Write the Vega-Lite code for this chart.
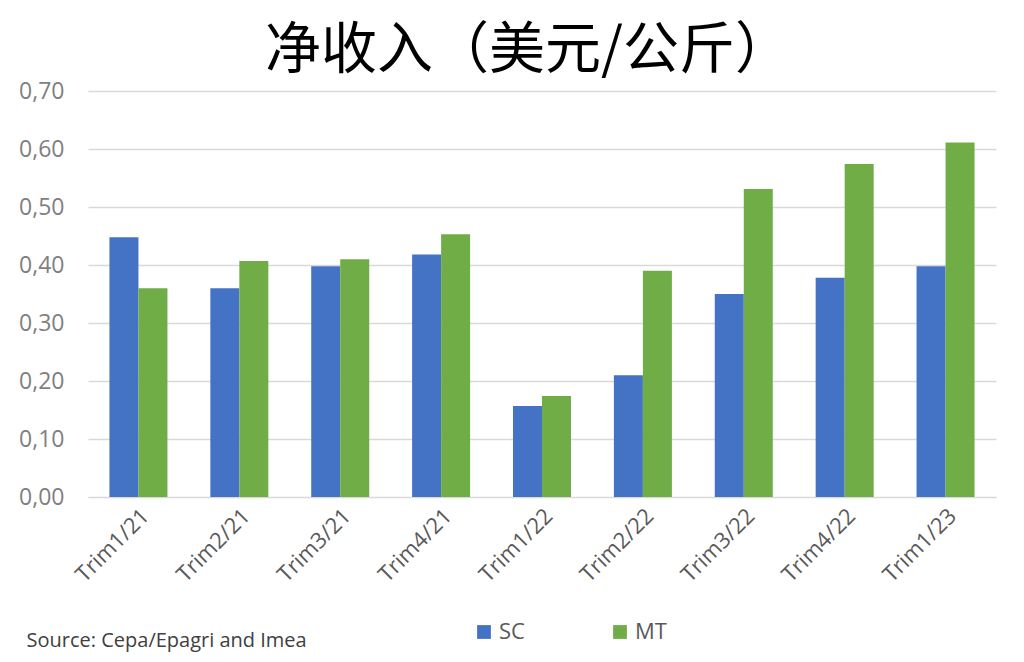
{
  "$schema": "https://vega.github.io/schema/vega-lite/v6.json",
  "width": 908,
  "height": 406,
  "autosize": "none",
  "padding": {"left": 88, "top": 91, "right": 28, "bottom": 165},
  "background": "white",
  "title": {
    "text": "净收入（美元/公斤）",
    "font": "Noto Sans CJK SC",
    "fontSize": 56,
    "fontWeight": "normal",
    "color": "#000000",
    "anchor": "middle",
    "dx": -14,
    "offset": 0
  },
  "data": {
    "values": [
      {"trim": "Trim1/21", "region": "SC", "value": 0.448},
      {"trim": "Trim1/21", "region": "MT", "value": 0.36},
      {"trim": "Trim2/21", "region": "SC", "value": 0.36},
      {"trim": "Trim2/21", "region": "MT", "value": 0.407},
      {"trim": "Trim3/21", "region": "SC", "value": 0.398},
      {"trim": "Trim3/21", "region": "MT", "value": 0.41},
      {"trim": "Trim4/21", "region": "SC", "value": 0.418},
      {"trim": "Trim4/21", "region": "MT", "value": 0.453},
      {"trim": "Trim1/22", "region": "SC", "value": 0.157},
      {"trim": "Trim1/22", "region": "MT", "value": 0.174},
      {"trim": "Trim2/22", "region": "SC", "value": 0.21},
      {"trim": "Trim2/22", "region": "MT", "value": 0.39},
      {"trim": "Trim3/22", "region": "SC", "value": 0.35},
      {"trim": "Trim3/22", "region": "MT", "value": 0.531},
      {"trim": "Trim4/22", "region": "SC", "value": 0.378},
      {"trim": "Trim4/22", "region": "MT", "value": 0.574},
      {"trim": "Trim1/23", "region": "SC", "value": 0.398},
      {"trim": "Trim1/23", "region": "MT", "value": 0.611}
    ]
  },
  "mark": "bar",
  "encoding": {
    "x": {
      "field": "trim",
      "type": "nominal",
      "sort": null,
      "scale": {"paddingInner": 0.425, "paddingOuter": 0.2125},
      "axis": {
        "title": "Source: Cepa/Epagri and Imea",
        "titleAnchor": "start",
        "titleAlign": "left",
        "titleBaseline": "middle",
        "titleX": -62,
        "titleY": 143,
        "titleFont": "Open Sans",
        "titleFontSize": 20,
        "titleFontWeight": "normal",
        "titleColor": "#404040",
        "labelAngle": -45,
        "labelAlign": "right",
        "labelBaseline": "top",
        "labelFont": "Open Sans",
        "labelFontSize": 22,
        "labelColor": "#595959",
        "labelPadding": 8,
        "ticks": false,
        "domainColor": "#d9d9d9",
        "domainWidth": 1
      }
    },
    "xOffset": {"field": "region", "type": "nominal", "sort": ["SC", "MT"]},
    "y": {
      "field": "value",
      "type": "quantitative",
      "scale": {"domain": [0, 0.7], "nice": false},
      "axis": {
        "title": null,
        "values": [0, 0.1, 0.2, 0.3, 0.4, 0.5, 0.6, 0.7],
        "labelExpr": "replace(format(datum.value, '.2f'), '.', ',')",
        "labelFont": "Open Sans",
        "labelFontSize": 23,
        "labelColor": "#7f7f7f",
        "labelPadding": 24,
        "domain": false,
        "ticks": false,
        "gridColor": "#d9d9d9",
        "gridWidth": 1.5
      }
    },
    "color": {
      "field": "region",
      "type": "nominal",
      "sort": ["SC", "MT"],
      "scale": {"domain": ["SC", "MT"], "range": ["#4472c4", "#70ad47"]},
      "legend": {
        "title": null,
        "orient": "none",
        "direction": "horizontal",
        "legendX": 385,
        "legendY": 530,
        "symbolType": "square",
        "symbolSize": 190,
        "symbolStrokeWidth": 0,
        "labelFont": "Open Sans",
        "labelFontSize": 22,
        "labelColor": "#595959",
        "labelOffset": 4,
        "columnPadding": 84
      }
    }
  },
  "config": {
    "view": {"stroke": null}
  }
}
